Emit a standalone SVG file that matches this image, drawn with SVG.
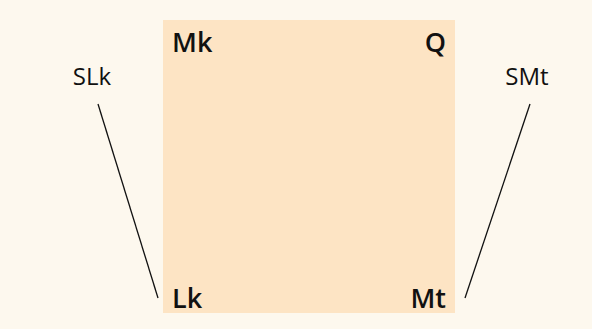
<svg xmlns="http://www.w3.org/2000/svg" width="592" height="329" viewBox="0 0 592 329">
<style>
.b{font-family:"Open Sans","Noto Sans",sans-serif;font-weight:600;font-size:27px;fill:#111}
.n{font-family:"Open Sans","Noto Sans",sans-serif;font-size:24px;fill:#111}
.c{stroke:#111;stroke-width:1.3;fill:none}
</style>
<rect x="0" y="0" width="592" height="329" fill="#fdf8ee"/>
<g id="square">
<rect x="163" y="20" width="292" height="293" fill="#fde4c4"/>
</g>
<g id="Mk"><text class="b" x="172" y="52">Mk</text></g>
<g id="Q"><text class="b" x="446" y="52" text-anchor="end">Q</text></g>
<g id="Lk"><text class="b" x="172" y="308">Lk</text></g>
<g id="Mt"><text class="b" x="446" y="308" text-anchor="end">Mt</text></g>
<g id="SLk"><text class="n" x="92" y="85" text-anchor="middle">SLk</text></g>
<g id="SMt"><text class="n" x="527" y="85" text-anchor="middle">SMt</text></g>
<g id="connectors">
<line class="c" x1="98" y1="104" x2="158" y2="298"/>
<line class="c" x1="530" y1="104" x2="465" y2="298"/>
</g>
</svg>
